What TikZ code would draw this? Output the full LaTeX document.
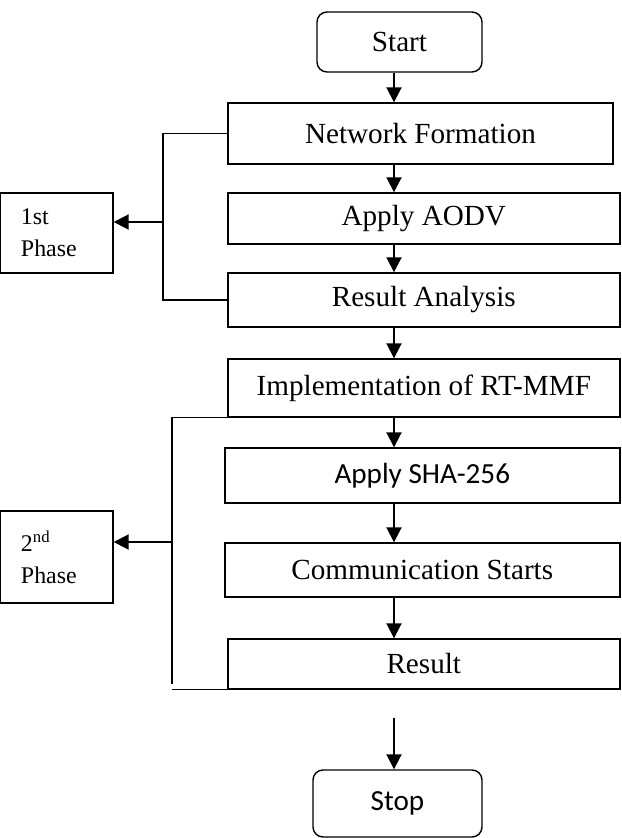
\documentclass[tikz,border=0pt]{standalone}
\usepackage{fontspec}
\setmainfont{Liberation Serif}
\newfontfamily\calibri{Carlito}
\usetikzlibrary{arrows.meta}

\begin{document}
\begin{tikzpicture}[x=0.2mm,y=-0.2mm,line width=0.8pt,>={Triangle[length=3mm,width=3mm]},
    box/.style={draw,rectangle,inner sep=0pt,font=\fontsize{16.6}{20}\selectfont},
    term/.style={box,rounded corners=2mm},
    phase/.style={draw,rectangle,align=left,text width=14.2mm,inner xsep=4.2mm,inner ysep=0pt,
        font=\fontsize{13.6}{18}\selectfont},
    flow/.style={->,line width=1.1pt}]
    \useasboundingbox (0,0) rectangle (621,838);

    % main column
    \node[term,minimum width=33mm,minimum height=12mm] (start) at (399.5,42) {Start};
    \node[box,minimum width=77mm,minimum height=12.2mm] (netform) at (420.5,133.5) {Network Formation};
    \node[box,minimum width=78.4mm,minimum height=10.2mm] (aodv) at (423.8,218.5) {Apply AODV};
    \node[box,minimum width=78.4mm,minimum height=10.8mm] (analysis) at (423.8,300) {Result Analysis};
    \node[box,minimum width=78.4mm,minimum height=11.6mm] (rtmmf) at (423.8,388) {Implementation of RT-MMF};
    \node[box,minimum width=79mm,minimum height=11mm,font=\calibri\fontsize{16.6}{20}\selectfont] (sha) at (422.3,475.5) {Apply SHA-256};
    \node[box,minimum width=79mm,minimum height=10.8mm] (comm) at (422.3,570) {Communication Starts};
    \node[box,minimum width=78.4mm,minimum height=10mm] (result) at (423.8,664) {Result};
    \node[term,minimum width=33.8mm,minimum height=13.4mm,font=\calibri\fontsize{16.6}{20}\selectfont] (stop) at (397.5,803.5) {Stop};

    % phase labels
    \node[phase,minimum height=16mm] (phase1) at (56.5,233) {1st\\Phase};
    \node[phase,minimum height=18.4mm] (phase2) at (56.5,557) {2\textsuperscript{nd}\\Phase};

    \coordinate (col) at (394,0);
    \coordinate (gap) at (394,718);
    \draw[flow] (start.south -| col) -- (netform.north -| col);
    \draw[flow] (netform.south -| col) -- (aodv.north -| col);
    \draw[flow] (aodv.south -| col) -- (analysis.north -| col);
    \draw[flow] (analysis.south -| col) -- (rtmmf.north -| col);
    \draw[flow] (rtmmf.south -| col) -- (sha.north -| col);
    \draw[flow] (sha.south -| col) -- (comm.north -| col);
    \draw[flow] (comm.south -| col) -- (result.north -| col);
    \draw[flow] (gap) -- (stop.north -| gap);

    % first bracket
    \coordinate (b1) at (163,0);
    \coordinate (a1) at (163,222);
    \draw (netform.west) -- (netform.west -| b1) -- (analysis.west -| b1) -- (analysis.west);
    \draw[flow] (a1) -- (a1 -| phase1.east);

    % second bracket
    \coordinate (b2end) at (172,684);
    \coordinate (a2) at (172,542);
    \draw (rtmmf.south west) -| (b2end);
    \draw (b2end |- result.south) -- (result.south west);
    \draw[flow] (a2) -- (a2 -| phase2.east);
\end{tikzpicture}
\end{document}
